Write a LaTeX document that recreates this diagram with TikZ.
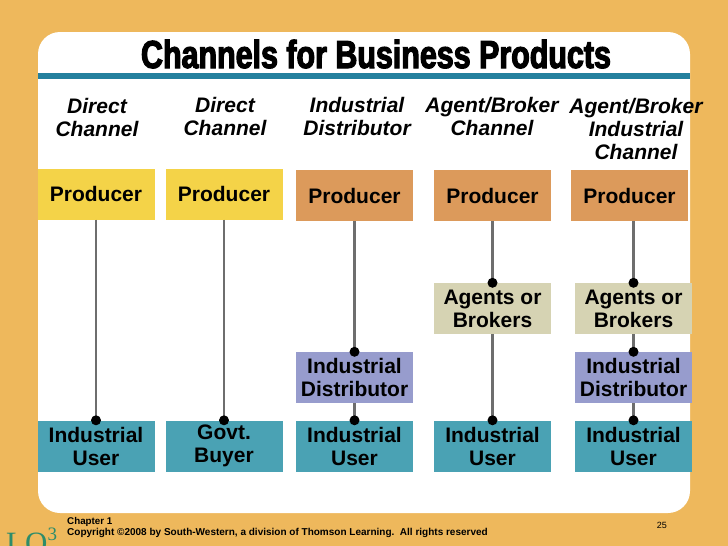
\documentclass[tikz,border=0pt]{standalone}
\usepackage{fontspec}
\setmainfont{Liberation Sans}
\newfontfamily\titlefont{Liberation Sans}[UprightFont={* Bold},FakeStretch=0.78,FakeBold=3]
\newfontfamily\lofont{Liberation Serif}
\definecolor{slidebg}{HTML}{EEB85C}
\definecolor{rulecol}{HTML}{24809E}
\definecolor{prodyellow}{HTML}{F4D348}
\definecolor{prodorange}{HTML}{DC9A5B}
\definecolor{agenttan}{HTML}{D6D3B3}
\definecolor{distblue}{HTML}{979CCD}
\definecolor{userteal}{HTML}{4AA2B4}
\definecolor{linkgray}{HTML}{6E6E6E}
\definecolor{locol}{HTML}{2E8C6A}

\begin{document}
\begin{tikzpicture}[x=1pt,y=-1pt,
  box/.style={minimum width=117pt,minimum height=51pt,inner sep=0pt,align=center,
    font=\fontsize{21}{23}\selectfont\bfseries},
  head/.style={anchor=north,inner sep=0pt,align=center,
    font=\fontsize{21}{23}\selectfont\bfseries\itshape},
  link/.style={draw=linkgray,line width=2.2pt}]
\useasboundingbox (0,0) rectangle (728,546);
\fill[slidebg] (0,0) rectangle (728,546);
\fill[white,rounded corners=22pt] (38,32) rectangle (690,513);
\fill[rulecol] (38,73) rectangle (690,79);

\node[anchor=base,inner sep=0pt,font=\titlefont\fontsize{39}{39}\selectfont] (title) at (376,68) {Channels for Business Products};

% channel names
\node[head] (h1) at (97,98) {Direct\\Channel};
\node[head] (h2) at (225,97) {Direct\\Channel};
\node[head] (h3) at (357,97) {Industrial\\Distributor};
\node[head] (h4) at (492,97) {Agent/Broker\\Channel};
\node[head] (h5) at (636,98) {Agent/Broker\\Industrial\\Channel};

% boxes
\node[box,fill=prodyellow] (P1) at (96,194) {Producer};
\node[box,fill=prodyellow] (P2) at (224,194) {Producer};
\node[box,fill=prodorange] (P3) at (354.5,195.5) {Producer};
\node[box,fill=prodorange] (P4) at (492.5,195.5) {Producer};
\node[box,fill=prodorange] (P5) at (629.5,195.5) {Producer};

\node[box,fill=agenttan] (A4) at (492.5,308.5) {Agents or\\Brokers};
\node[box,fill=agenttan] (A5) at (633.5,308.5) {Agents or\\Brokers};

\node[box,fill=distblue] (D3) at (354.5,377.5) {Industrial\\Distributor};
\node[box,fill=distblue] (D5) at (633.5,377.5) {Industrial\\Distributor};

\node[box,fill=userteal] (U1) at (96,446) {Industrial\\User};
\node[box,fill=userteal] (U2) at (224,446) {Govt.\\Buyer};
\node[box,fill=userteal] (U3) at (354.5,446) {Industrial\\User};
\node[box,fill=userteal] (U4) at (492.5,446) {Industrial\\User};
\node[box,fill=userteal] (U5) at (633.5,446) {Industrial\\User};

% links
\draw[link] (P1.south) -- (U1.north);
\draw[link] (P2.south) -- (U2.north);
\draw[link] (P3.south) -- (D3.north);
\draw[link] (D3.south) -- (U3.north);
\draw[link] (P4.south) -- (A4.north);
\draw[link] (A4.south) -- (U4.north);
\draw[link] (P5.south -| A5.north) -- (A5.north);
\draw[link] (A5.south) -- (D5.north);
\draw[link] (D5.south) -- (U5.north);

\foreach \n in {U1,U2,D3,U3,A4,U4,A5,D5,U5}
  \fill (\n.north) circle (5pt);

% footer
\node[anchor=base west,inner sep=0pt,font=\fontsize{9.8}{10}\selectfont\bfseries] (chap) at (67,524) {Chapter 1};
\node[anchor=base west,inner sep=0pt,font=\fontsize{10}{10}\selectfont\bfseries] (copy) at (67,535) {Copyright ©2008 by South-Western, a division of Thomson Learning.\ \ All rights reserved};
\node[anchor=base east,inner sep=0pt,font=\fontsize{9}{10}\selectfont] (page) at (667,528) {25};
\node[anchor=base west,inner sep=0pt,text=locol,font=\lofont\fontsize{31}{31}\selectfont] (lo) at (6,553) {LO\raisebox{13pt}{\fontsize{19}{19}\selectfont 3}};
\end{tikzpicture}
\end{document}
